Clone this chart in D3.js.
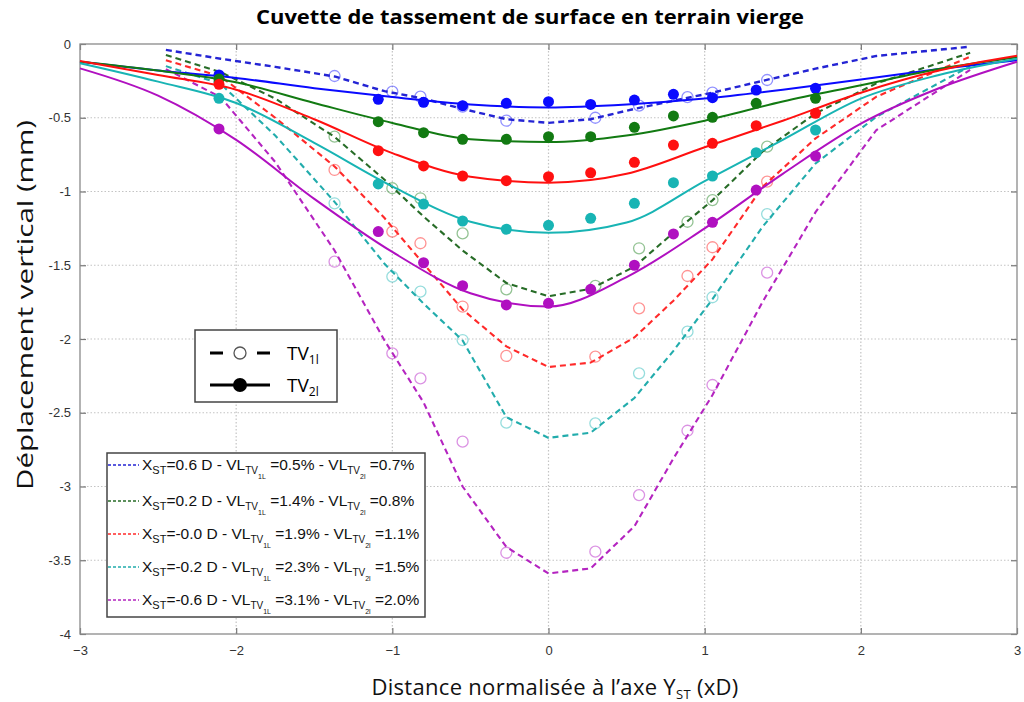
<!DOCTYPE html>
<html>
<head>
<meta charset="utf-8">
<script src="https://cdn.jsdelivr.net/npm/d3@7"></script>
<style>
body { margin: 0; background: #fff; }
svg { display: block; }
</style>
</head>
<body>
<script>
// ---- data ----
const seriesNames = ["0.6", "0.2", "-0.0", "-0.2", "-0.6"];
const vl1 = ["0.5%", "1.4%", "1.9%", "2.3%", "3.1%"];
const vl2 = ["0.7%", "0.8%", "1.1%", "1.5%", "2.0%"];
const colors = ["#0a0aff", "#127a12", "#ff1010", "#18b4b4", "#b010c0"];
const dashColors = ["#2424d4", "#276c27", "#ff2a2a", "#22acac", "#b424c0"];

// TV2l fitted curves (solid)
const solidX = [-3, -2.5, -2, -1.5, -1, -0.5, 0, 0.5, 1, 1.5, 2, 2.5, 3];
const solidBlue = [-0.12, -0.18, -0.23, -0.30, -0.36, -0.41, -0.43, -0.41, -0.37, -0.31, -0.24, -0.17, -0.11];
const solidGreen = [-0.12, -0.18, -0.26, -0.40, -0.535, -0.645, -0.665, -0.62, -0.52, -0.39, -0.28, -0.17, -0.09];
const solidRed = [-0.115, -0.21, -0.31, -0.51, -0.74, -0.90, -0.94, -0.88, -0.70, -0.52, -0.33, -0.18, -0.08];
const solidCyan = [-0.13, -0.255, -0.40, -0.67, -0.965, -1.205, -1.28, -1.21, -0.93, -0.65, -0.37, -0.21, -0.10];
const solidMagenta = [-0.165, -0.35, -0.65, -1.05, -1.41, -1.69, -1.78, -1.58, -1.25, -0.88, -0.54, -0.30, -0.12];

// TV1l curves (dashed)
const dashX = [-2.45, -2.1, -1.75, -1.37, -1.05, -0.8, -0.55, -0.27, 0, 0.27, 0.55, 0.8, 1.05, 1.37, 1.71, 2.1, 2.7];
const dashBlue = [-0.04, -0.10, -0.155, -0.22, -0.32, -0.37, -0.44, -0.51, -0.535, -0.51, -0.44, -0.385, -0.33, -0.25, -0.167, -0.081, -0.018];
const dashGreen = [-0.075, -0.19, -0.37, -0.63, -0.92, -1.17, -1.40, -1.62, -1.71, -1.66, -1.51, -1.28, -1.06, -0.73, -0.47, -0.267, -0.06];
const dashRed = [-0.11, -0.22, -0.50, -0.83, -1.18, -1.49, -1.80, -2.05, -2.19, -2.16, -1.99, -1.74, -1.46, -0.97, -0.64, -0.357, -0.086];
const dashCyan = [-0.15, -0.27, -0.62, -1.07, -1.49, -1.76, -2.01, -2.53, -2.67, -2.635, -2.40, -2.08, -1.73, -1.24, -0.81, -0.493, -0.15];
const dashMagenta = [-0.17, -0.36, -0.80, -1.40, -2.01, -2.43, -3.0, -3.41, -3.59, -3.555, -3.27, -2.81, -2.38, -1.75, -1.14, -0.583, -0.176];

// TV2l measurements (filled dots)
const dotX = [-2.11, -1.09, -0.80, -0.55, -0.27, 0, 0.27, 0.55, 0.80, 1.05, 1.33, 1.71];
const dotBlue = [-0.21, -0.375, -0.395, -0.418, -0.402, -0.391, -0.41, -0.38, -0.341, -0.364, -0.312, -0.30];
const dotGreen = [-0.237, -0.527, -0.601, -0.646, -0.646, -0.628, -0.628, -0.565, -0.488, -0.497, -0.402, -0.368];
const dotRed = [-0.273, -0.723, -0.827, -0.895, -0.927, -0.90, -0.873, -0.802, -0.685, -0.673, -0.554, -0.47];
const dotCyan = [-0.368, -0.949, -1.085, -1.20, -1.256, -1.229, -1.182, -1.08, -0.94, -0.895, -0.737, -0.583];
const dotMagenta = [-0.576, -1.272, -1.483, -1.639, -1.769, -1.758, -1.663, -1.50, -1.288, -1.209, -0.99, -0.76];

// TV1l measurements (open circles)
const ringX = [-1.37, -1.0, -0.82, -0.55, -0.27, 0.30, 0.58, 0.89, 1.05, 1.40];
const ringBlue = [-0.217, -0.323, -0.357, -0.425, -0.52, -0.50, -0.418, -0.36, -0.33, -0.244];
const ringGreen = [-0.628, -0.978, -1.046, -1.284, -1.663, -1.64, -1.385, -1.205, -1.058, -0.696];
const ringRed = [-0.854, -1.272, -1.351, -1.78, -2.115, -2.12, -1.792, -1.573, -1.378, -0.933];
const ringCyan = [-1.08, -1.577, -1.679, -2.007, -2.567, -2.572, -2.233, -1.95, -1.717, -1.153];
const ringMagenta = [-1.476, -2.097, -2.267, -2.696, -3.449, -3.442, -3.058, -2.622, -2.312, -1.55];

const xTicks = [-3, -2, -1, 0, 1, 2, 3];
const yTicks = [0, -0.5, -1, -1.5, -2, -2.5, -3, -3.5, -4];

const solids = [solidBlue, solidGreen, solidRed, solidCyan, solidMagenta];
const dashes = [dashBlue, dashGreen, dashRed, dashCyan, dashMagenta];
const dots = [dotBlue, dotGreen, dotRed, dotCyan, dotMagenta];
const rings = [ringBlue, ringGreen, ringRed, ringCyan, ringMagenta];

// ---- drawing ----
const W = 1024, H = 702;
const svg = d3.select("body").append("svg")
    .attr("width", W)
    .attr("height", H)
    .style("font-family", "'Liberation Sans', Arial, sans-serif");

const x = d3.scaleLinear().domain([-3, 3]).range([80, 1017]);
const y = d3.scaleLinear().domain([-4, 0]).range([634, 44]);

// dotted grid
const grid = svg.append("g").attr("stroke", "#c4c4c4").attr("stroke-width", 1.2).attr("stroke-dasharray", "1.5,2");
grid.selectAll(".gx").data(xTicks.slice(1, -1)).enter().append("line")
    .attr("x1", d => x(d)).attr("x2", d => x(d))
    .attr("y1", y(0)).attr("y2", y(-4));
grid.selectAll(".gy").data(yTicks.slice(1, -1)).enter().append("line")
    .attr("x1", x(-3)).attr("x2", x(3))
    .attr("y1", d => y(d)).attr("y2", d => y(d));

// axes, MATLAB style: ticks pointing inwards on all four sides
function styleAxis(g) {
    g.select(".domain").remove();
    g.selectAll(".tick line").attr("stroke", "#777").attr("stroke-width", 1.2);
    g.selectAll("text").attr("fill", "#333").style("font-size", "13px");
}
svg.append("g").attr("transform", `translate(0,${y(-4)})`)
    .call(d3.axisBottom(x).tickValues(xTicks).tickSize(-6).tickPadding(12).tickFormat(d3.format("d")))
    .call(styleAxis);
svg.append("g").attr("transform", `translate(0,${y(0)})`)
    .call(d3.axisTop(x).tickValues(xTicks).tickSize(-6).tickFormat(""))
    .call(styleAxis);
svg.append("g").attr("transform", `translate(${x(-3)},0)`)
    .call(d3.axisLeft(y).tickValues(yTicks).tickSize(-6).tickPadding(9).tickFormat(d => String(d)))
    .call(styleAxis);
svg.append("g").attr("transform", `translate(${x(3)},0)`)
    .call(d3.axisRight(y).tickValues(yTicks).tickSize(-6).tickFormat(""))
    .call(styleAxis);

svg.append("rect")
    .attr("x", x(-3)).attr("y", y(0))
    .attr("width", x(3) - x(-3)).attr("height", y(-4) - y(0))
    .attr("fill", "none").attr("stroke", "#8a8a8a").attr("stroke-width", 1.3);

const plot = svg.append("g");

const smooth = d3.line().x(d => x(d[0])).y(d => y(d[1])).curve(d3.curveMonotoneX);
const poly = d3.line().x(d => x(d[0])).y(d => y(d[1]));

// open circles first (pale), then dashed, then solid and dots
rings.forEach((vals, i) => {
    plot.selectAll(null).data(ringX.map((v, k) => [v, vals[k]])).enter().append("circle")
        .attr("cx", d => x(d[0])).attr("cy", d => y(d[1])).attr("r", 5.5)
        .attr("fill", "none").attr("stroke", colors[i]).attr("stroke-opacity", 0.45).attr("stroke-width", 1.3);
});

dashes.forEach((vals, i) => {
    plot.append("path")
        .attr("d", poly(dashX.map((v, k) => [v, vals[k]])))
        .attr("fill", "none").attr("stroke", dashColors[i])
        .attr("stroke-width", i === 0 ? 2.4 : 2.1).attr("stroke-dasharray", "6,4");
});

solids.forEach((vals, i) => {
    plot.append("path")
        .attr("d", smooth(solidX.map((v, k) => [v, vals[k]])))
        .attr("fill", "none").attr("stroke", colors[i]).attr("stroke-width", 2);
});

dots.forEach((vals, i) => {
    plot.selectAll(null).data(dotX.map((v, k) => [v, vals[k]])).enter().append("circle")
        .attr("cx", d => x(d[0])).attr("cy", d => y(d[1])).attr("r", 5.5)
        .attr("fill", colors[i]);
});

// title and axis labels
svg.append("text")
    .attr("x", 530).attr("y", 24)
    .attr("text-anchor", "middle")
    .attr("textLength", 548).attr("lengthAdjust", "spacingAndGlyphs")
    .style("font-family", "'Open Sans', sans-serif")
    .style("font-weight", "bold").style("font-size", "20px")
    .text("Cuvette de tassement de surface en terrain vierge");

svg.append("text")
    .attr("transform", "translate(33,305) rotate(-90)")
    .attr("text-anchor", "middle")
    .attr("textLength", 370).attr("lengthAdjust", "spacingAndGlyphs")
    .style("font-family", "'Open Sans', sans-serif")
    .style("font-size", "21px").attr("fill", "#111")
    .text("Déplacement vertical (mm)");

const xl = svg.append("text")
    .attr("x", 555).attr("y", 695)
    .attr("text-anchor", "middle")
    .style("font-family", "'Open Sans', sans-serif")
    .style("font-size", "22px").style("letter-spacing", "0.3px").attr("fill", "#111");
xl.append("tspan").text("Distance normalisée à l’axe Y");
xl.append("tspan").attr("dy", 4).style("font-size", "13px").text("ST");
xl.append("tspan").attr("dy", -4).text(" (xD)");

// marker legend
const lg1 = svg.append("g");
lg1.append("rect").attr("x", 195).attr("y", 330).attr("width", 142).attr("height", 72)
    .attr("fill", "#fff").attr("stroke", "#444").attr("stroke-width", 1.5);
lg1.append("line").attr("x1", 210).attr("x2", 270).attr("y1", 353).attr("y2", 353)
    .attr("stroke", "#000").attr("stroke-width", 3).attr("stroke-dasharray", "13,34");
lg1.append("circle").attr("cx", 240).attr("cy", 353).attr("r", 6)
    .attr("fill", "none").attr("stroke", "#555").attr("stroke-width", 1.3);
lg1.append("line").attr("x1", 210).attr("x2", 270).attr("y1", 385).attr("y2", 385)
    .attr("stroke", "#000").attr("stroke-width", 3);
lg1.append("circle").attr("cx", 240).attr("cy", 385).attr("r", 7).attr("fill", "#000");
[["1l", 360], ["2l", 392]].forEach(e => {
    const t = lg1.append("text").attr("x", 287).attr("y", e[1])
        .style("font-family", "'Open Sans', sans-serif").style("font-size", "19px");
    t.append("tspan").text("TV");
    t.append("tspan").attr("dy", 4).style("font-size", "12px").text(e[0]);
});

// series legend
const lg2 = svg.append("g");
lg2.append("rect").attr("x", 107).attr("y", 453).attr("width", 318).attr("height", 164)
    .attr("fill", "#fff").attr("stroke", "#444").attr("stroke-width", 1.5);
const rowY = [465, 501, 534, 567, 600];
seriesNames.forEach((s, i) => {
    lg2.append("line").attr("x1", 108).attr("x2", 139).attr("y1", rowY[i]).attr("y2", rowY[i])
        .attr("stroke", dashColors[i]).attr("stroke-width", 1.6).attr("stroke-dasharray", "3,2");
    const t = lg2.append("text").attr("x", 142).attr("y", rowY[i] + 5)
        .style("font-size", "15.5px").attr("fill", "#111");
    t.append("tspan").text("X");
    t.append("tspan").attr("dy", 4).style("font-size", "11px").text("ST");
    t.append("tspan").attr("dy", -4).text("=" + s + " D - VL");
    t.append("tspan").attr("dy", 4).style("font-size", "10px").text("TV");
    t.append("tspan").attr("dy", 5).style("font-size", "7px").text("1L");
    t.append("tspan").attr("dy", -9).text(" =" + vl1[i] + " - VL");
    t.append("tspan").attr("dy", 4).style("font-size", "10px").text("TV");
    t.append("tspan").attr("dy", 5).style("font-size", "7px").text("2l");
    t.append("tspan").attr("dy", -9).text(" =" + vl2[i]);
});
</script>
</body>
</html>
